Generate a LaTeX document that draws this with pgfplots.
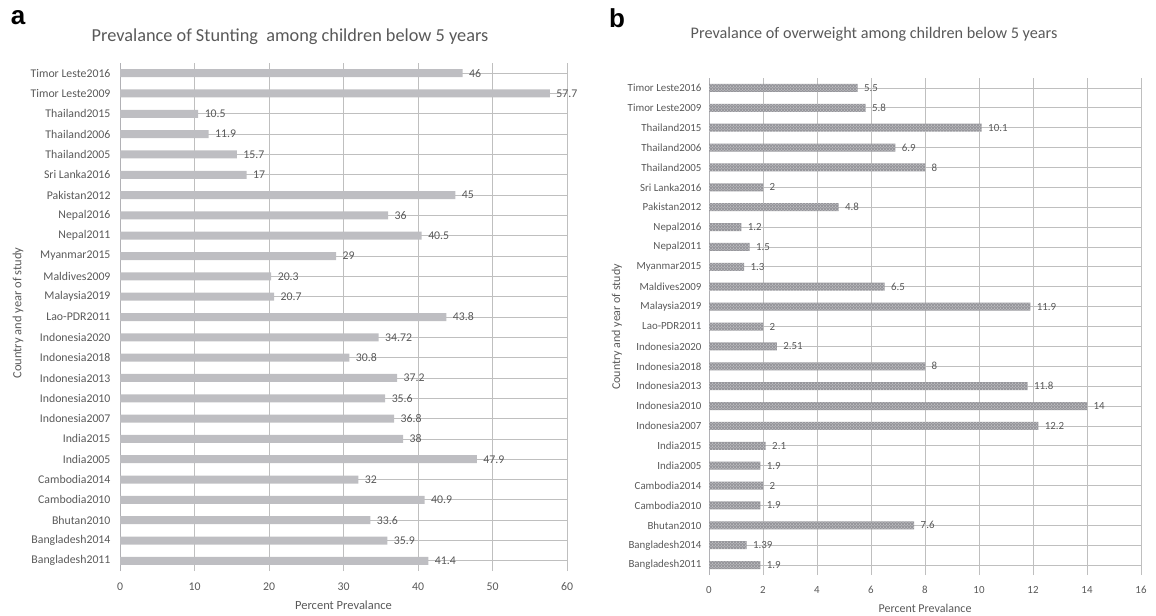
\documentclass[border=0pt]{standalone}
\usepackage{pgfplots}
\pgfplotsset{compat=1.18}
\usepackage{pgfplotstable}
\usepackage{fontspec}
\setmainfont{Carlito}
\newfontfamily\letterfont{Liberation Sans}
\usetikzlibrary{patterns}
\definecolor{txt}{HTML}{595959}
\definecolor{grid}{HTML}{D9D9D9}
\definecolor{bara}{HTML}{BEBEC2}
\definecolor{barb}{HTML}{96969B}

\pgfplotstableread{
idx val
0 41.4
1 35.9
2 33.6
3 40.9
4 32
5 47.9
6 38
7 36.8
8 35.6
9 37.2
10 30.8
11 34.72
12 43.8
13 20.7
14 20.3
15 29
16 40.5
17 36
18 45
19 17
20 15.7
21 11.9
22 10.5
23 57.7
24 46
}\stunting

\pgfplotstableread{
idx val
0 1.9
1 1.39
2 7.6
3 1.9
4 2
5 1.9
6 2.1
7 12.2
8 14
9 11.8
10 8
11 2.51
12 2
13 11.9
14 6.5
15 1.3
16 1.5
17 1.2
18 4.8
19 2
20 8
21 6.9
22 10.1
23 5.8
24 5.5
}\overweight

\pgfplotsset{
  common/.style={
    scale only axis,
    xbar,
    ymin=-0.5, ymax=24.5,
    xmin=0,
    ytick={0,...,24},
    yticklabels={Bangladesh2011,Bangladesh2014,Bhutan2010,Cambodia2010,Cambodia2014,India2005,India2015,Indonesia2007,Indonesia2010,Indonesia2013,Indonesia2018,Indonesia2020,Lao-PDR2011,Malaysia2019,Maldives2009,Myanmar2015,Nepal2011,Nepal2016,Pakistan2012,Sri Lanka2016,Thailand2005,Thailand2006,Thailand2015,Timor Leste2009,Timor Leste2016},
    axis line style={draw=none},
    major tick length=0pt,
    xmajorgrids,
    grid style={grid, line width=0.8pt},
    tick label style={text=txt},
    label style={text=txt},
    /pgf/number format/assume math mode=true,
    nodes near coords,
    nodes near coords style={text=txt, anchor=west, xshift=3pt},
    clip=false,
  }
}

\begin{document}
\begin{tikzpicture}[x=1pt,y=1pt]
\path (0,0) rectangle (1156,615);

% Panel a
\begin{axis}[common,
  at={(120pt,44pt)}, anchor=south west,
  width=447pt, height=508pt,
  xmax=60, xtick={0,10,...,60},
  tick label style={font=\fontsize{11.8}{13}\selectfont},
  yticklabel style={xshift=-6pt},
  xticklabel style={yshift=-8pt},
  xlabel={Percent Prevalance},
  xlabel style={font=\fontsize{12.5}{14}\selectfont, yshift=-3pt},
  nodes near coords style={font=\fontsize{11.8}{13}\selectfont},
  bar width=8pt,
]
\draw[bara!80!gray, line width=0.8pt] (axis cs:0,-0.5) -- (axis cs:0,24.5);
\addplot[fill=bara, draw=none] table[x=val, y=idx] {\stunting};
\end{axis}

% Panel b
\begin{axis}[common,
  at={(709pt,40pt)}, anchor=south west,
  width=432pt, height=497pt,
  xmax=16, xtick={0,2,...,16},
  tick label style={font=\fontsize{10.9}{12}\selectfont},
  yticklabel style={xshift=-4pt},
  xticklabel style={yshift=-8pt},
  xlabel={Percent Prevalance},
  xlabel style={font=\fontsize{12}{14}\selectfont, yshift=-3pt},
  nodes near coords style={font=\fontsize{10.9}{12}\selectfont},
  bar width=8pt,
]
\draw[bara!80!gray, line width=0.8pt] (axis cs:0,-0.5) -- (axis cs:0,24.5);
\addplot[fill=barb, draw=none, postaction={pattern=crosshatch dots, pattern color=white!75!barb}] table[x=val, y=idx] {\overweight};
\end{axis}

% labels and titles
\node[text=txt, font=\fontsize{18.3}{21}\selectfont] at (290,578) {Prevalance of Stunting\ \ among children below 5 years};
\node[text=txt, font=\fontsize{16.2}{18}\selectfont] at (874,581) {Prevalance of overweight among children below 5 years};
\node[text=txt, rotate=90, font=\fontsize{12.5}{14}\selectfont] at (18,302) {Country and year of study};
\node[text=txt, rotate=90, font=\fontsize{12}{14}\selectfont] at (617,288) {Country and year of study};
\node[font=\letterfont\bfseries\fontsize{26}{28}\selectfont] at (18,597) {a};
\node[font=\letterfont\bfseries\fontsize{26}{28}\selectfont] at (617,597) {b};
\end{tikzpicture}
\end{document}
